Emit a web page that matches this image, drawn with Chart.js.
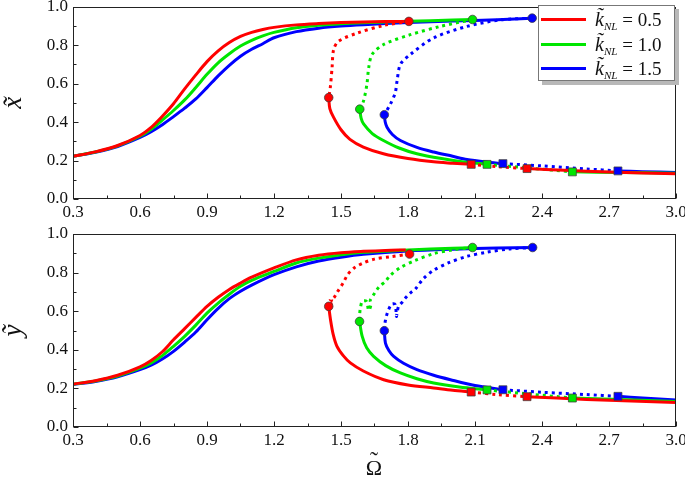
<!DOCTYPE html>
<html lang="en">
<head>
<meta charset="UTF-8">
<title>Amplitude response</title>
<script src="https://cdn.jsdelivr.net/npm/chart.js"></script>
<style>
    body { margin: 0; background: #fff; }
    #wrap { position: relative; width: 685px; height: 477px; overflow: hidden; }
    #topChart { position: absolute; left: 0; top: 0; }
    #bottomChart { position: absolute; left: 0; top: 222px; }
    .legend {
        position: absolute; left: 538px; top: 5px; width: 135px; height: 74px;
        border: 1px solid #777; background: #fff; box-shadow: 4px 4px 0 #b8b8b8;
        font-family: 'Liberation Serif', serif; color: #111;
    }
    .legend .swatch { position: absolute; left: 2px; width: 45px; height: 3px; }
    .legend .lbl { position: absolute; left: 56px; font-size: 19px; line-height: 19px; white-space: nowrap; }
    .legend .lbl i { font-size: 20px; }
    .legend .lbl sub { font-size: 11px; font-style: italic; vertical-align: -4px; margin-right: 5px; }
    .omega {
        position: absolute; left: 374px; top: 457px; transform: translateX(-50%);
        font-family: 'Liberation Serif', serif; font-size: 22px; line-height: 22px; color: #111;
    }
    .omega .tl { position: absolute; left: 50%; top: -8px; transform: translateX(-50%); font-size: 24px; }
</style>
</head>
<body>
<div id="wrap">
    <canvas id="topChart" width="685" height="222"></canvas>
    <canvas id="bottomChart" width="685" height="255"></canvas>
    <div class="legend" id="legend"></div>
    <div class="omega">&Omega;<span class="tl">&#732;</span></div>
</div>
<script>
// axis ticks
const xTicks = [0.3, 0.6, 0.9, 1.2, 1.5, 1.8, 2.1, 2.4, 2.7, 3.0];
const xTickLabels = ['0.3', '0.6', '0.9', '1.2', '1.5', '1.8', '2.1', '2.4', '2.7', '3.0'];
const xMinorTicks = [0.45, 0.75, 1.05, 1.35, 1.65, 1.95, 2.25, 2.55, 2.85];
const yTicks = [0.0, 0.2, 0.4, 0.6, 0.8, 1.0];
const yTickLabels = ['0.0', '0.2', '0.4', '0.6', '0.8', '1.0'];
const yMinorTicks = [0.1, 0.3, 0.5, 0.7, 0.9];

const kValues = ['0.5', '1.0', '1.5'];

// top panel: x~ vs Omega~  (stable upper, unstable upper, stable lower, unstable lower, stable tail)
const xtUpper05 = [[0.3,0.222],[0.4,0.245],[0.5,0.278],[0.6,0.33],[0.65,0.372],[0.7,0.43],[0.75,0.495],[0.8,0.572],[0.85,0.645],[0.9,0.714],[0.95,0.77],[1.0,0.813],[1.05,0.845],[1.1,0.866],[1.15,0.881],[1.2,0.892],[1.3,0.905],[1.4,0.912],[1.5,0.917],[1.6,0.92],[1.7,0.922],[1.804,0.923]];
const xtUpperUnst05 = [[1.804,0.923],[1.691,0.902],[1.572,0.862],[1.489,0.82],[1.467,0.777],[1.46,0.682],[1.452,0.579],[1.445,0.527]];
const xtLower05 = [[1.445,0.527],[1.45,0.47],[1.467,0.424],[1.5,0.36],[1.54,0.31],[1.6,0.27],[1.69,0.235],[1.8,0.21],[1.915,0.193],[2.0,0.186],[2.083,0.18]];
const xtLowerUnst05 = [[2.083,0.18],[2.2,0.168],[2.333,0.158]];
const xtTail05 = [[2.333,0.158],[2.5,0.149],[2.7,0.14],[3.0,0.131]];

const xtUpper10 = [[0.3,0.222],[0.4,0.244],[0.5,0.276],[0.6,0.326],[0.65,0.362],[0.7,0.41],[0.75,0.46],[0.8,0.515],[0.85,0.58],[0.9,0.648],[0.95,0.708],[1.0,0.755],[1.05,0.795],[1.1,0.825],[1.15,0.848],[1.2,0.866],[1.3,0.89],[1.4,0.903],[1.5,0.911],[1.6,0.916],[1.8,0.924],[2.0,0.93],[2.089,0.933]];
const xtUpperUnst10 = [[2.089,0.933],[1.945,0.897],[1.81,0.854],[1.691,0.803],[1.639,0.751],[1.624,0.682],[1.616,0.596],[1.601,0.51],[1.584,0.467]];
const xtLower10 = [[1.584,0.467],[1.59,0.42],[1.601,0.39],[1.64,0.34],[1.69,0.304],[1.76,0.265],[1.84,0.235],[1.95,0.21],[2.05,0.193],[2.154,0.18]];
const xtLowerUnst10 = [[2.154,0.18],[2.35,0.16],[2.536,0.141]];
const xtTail10 = [[2.536,0.141],[2.75,0.138],[3.0,0.134]];

const xtUpper15 = [[0.3,0.222],[0.4,0.243],[0.5,0.273],[0.6,0.32],[0.65,0.35],[0.7,0.386],[0.75,0.428],[0.8,0.472],[0.85,0.52],[0.9,0.579],[0.95,0.64],[1.0,0.695],[1.05,0.742],[1.1,0.778],[1.15,0.807],[1.2,0.838],[1.3,0.87],[1.4,0.888],[1.5,0.899],[1.6,0.906],[1.8,0.917],[2.0,0.925],[2.2,0.932],[2.356,0.94]];
const xtUpperUnst15 = [[2.356,0.94],[2.214,0.931],[2.064,0.897],[1.915,0.837],[1.81,0.751],[1.766,0.7],[1.751,0.613],[1.743,0.553],[1.721,0.493],[1.694,0.438]];
const xtLower15 = [[1.694,0.438],[1.698,0.4],[1.706,0.373],[1.73,0.335],[1.766,0.304],[1.84,0.268],[1.915,0.244],[2.0,0.222],[2.064,0.205],[2.15,0.192],[2.225,0.184]];
const xtLowerUnst15 = [[2.225,0.184],[2.4,0.172],[2.6,0.156],[2.74,0.146]];
const xtTail15 = [[2.74,0.146],[2.85,0.142],[3.0,0.138]];

// bottom panel: y~ vs Omega~
const ytUpper05 = [[0.3,0.222],[0.4,0.24],[0.5,0.268],[0.6,0.312],[0.65,0.345],[0.7,0.39],[0.75,0.452],[0.8,0.51],[0.85,0.568],[0.9,0.625],[0.95,0.672],[1.0,0.713],[1.05,0.746],[1.1,0.776],[1.2,0.824],[1.3,0.866],[1.4,0.89],[1.5,0.903],[1.6,0.91],[1.7,0.915],[1.79,0.917]];
const ytUpperUnst05 = [[1.807,0.896],[1.72,0.882],[1.65,0.87],[1.6,0.85],[1.56,0.825],[1.53,0.79],[1.511,0.749],[1.482,0.697],[1.467,0.668],[1.452,0.66],[1.47,0.646],[1.455,0.638],[1.445,0.625]];
const ytLower05 = [[1.445,0.625],[1.453,0.556],[1.465,0.48],[1.482,0.418],[1.51,0.37],[1.542,0.332],[1.6,0.29],[1.691,0.245],[1.8,0.218],[1.915,0.202],[2.0,0.19],[2.083,0.181]];
const ytLowerUnst05 = [[2.083,0.181],[2.2,0.168],[2.333,0.157]];
const ytTail05 = [[2.333,0.157],[2.6,0.143],[3.0,0.127]];

const ytUpper10 = [[0.3,0.222],[0.4,0.238],[0.5,0.264],[0.6,0.305],[0.65,0.332],[0.7,0.37],[0.75,0.418],[0.8,0.47],[0.85,0.528],[0.9,0.59],[0.95,0.642],[1.0,0.688],[1.05,0.729],[1.1,0.76],[1.2,0.806],[1.3,0.85],[1.4,0.875],[1.5,0.893],[1.6,0.905],[1.8,0.917],[2.0,0.926],[2.089,0.93]];
const ytUpperUnst10 = [[2.089,0.93],[2.0,0.918],[1.915,0.898],[1.83,0.862],[1.766,0.826],[1.72,0.785],[1.699,0.754],[1.676,0.732],[1.661,0.712],[1.646,0.685],[1.631,0.656],[1.634,0.634],[1.624,0.604],[1.614,0.651],[1.595,0.651],[1.587,0.616],[1.584,0.59],[1.583,0.547]];
const ytLower10 = [[1.583,0.547],[1.595,0.469],[1.615,0.41],[1.646,0.366],[1.7,0.318],[1.766,0.28],[1.84,0.25],[1.915,0.228],[2.03,0.207],[2.154,0.192]];
const ytLowerUnst10 = [[2.154,0.192],[2.35,0.17],[2.536,0.15]];
const ytTail10 = [[2.536,0.15],[2.75,0.142],[3.0,0.132]];

const ytUpper15 = [[0.3,0.22],[0.4,0.236],[0.5,0.26],[0.6,0.297],[0.65,0.32],[0.7,0.352],[0.75,0.392],[0.8,0.44],[0.85,0.492],[0.9,0.556],[0.95,0.615],[1.0,0.665],[1.05,0.703],[1.1,0.735],[1.2,0.789],[1.3,0.83],[1.4,0.86],[1.5,0.88],[1.6,0.895],[1.8,0.912],[2.0,0.921],[2.2,0.927],[2.358,0.93]];
const ytUpperUnst15 = [[2.358,0.93],[2.25,0.922],[2.15,0.905],[2.064,0.884],[1.98,0.85],[1.915,0.812],[1.87,0.77],[1.833,0.715],[1.81,0.694],[1.788,0.668],[1.773,0.645],[1.758,0.625],[1.752,0.598],[1.748,0.573],[1.743,0.634],[1.728,0.637],[1.713,0.608],[1.703,0.573],[1.697,0.539],[1.694,0.499]];
const ytLower15 = [[1.694,0.499],[1.699,0.435],[1.715,0.395],[1.736,0.366],[1.78,0.33],[1.84,0.297],[1.915,0.268],[1.99,0.245],[2.1,0.215],[2.225,0.193]];
const ytLowerUnst15 = [[2.225,0.193],[2.4,0.18],[2.6,0.168],[2.74,0.159]];
const ytTail15 = [[2.74,0.159],[2.85,0.15],[3.0,0.14]];

const colors = ['#ff0000', '#00e600', '#0000ff'];
const serif = 'Liberation Serif';

const topSeries = [
    [xtUpper05, xtUpperUnst05, xtLower05, xtLowerUnst05, xtTail05],
    [xtUpper10, xtUpperUnst10, xtLower10, xtLowerUnst10, xtTail10],
    [xtUpper15, xtUpperUnst15, xtLower15, xtLowerUnst15, xtTail15]
];
const bottomSeries = [
    [ytUpper05, ytUpperUnst05, ytLower05, ytLowerUnst05, ytTail05],
    [ytUpper10, ytUpperUnst10, ytLower10, ytLowerUnst10, ytTail10],
    [ytUpper15, ytUpperUnst15, ytLower15, ytLowerUnst15, ytTail15]
];

function pts(arr) {
    return arr.map(p => ({ x: p[0], y: p[1] }));
}

function buildDatasets(series) {
    let sets = [];
    series.forEach((segs, i) => {
        segs.forEach((seg, j) => {
            let dotted = (j === 1 || j === 3);
            sets.push({
                data: pts(seg),
                showLine: true,
                borderColor: colors[i],
                borderWidth: 3,
                borderDash: dotted ? [3, 4] : [],
                borderCapStyle: 'butt',
                pointRadius: 0,
                tension: 0.3,
                order: 1
            });
        });
    });
    // turning points: ends of the unstable segments
    series.forEach((segs, i) => {
        let u = segs[1], l = segs[3];
        sets.push({
            data: pts([u[0], u[u.length - 1], l[0], l[l.length - 1]]),
            showLine: false,
            pointStyle: ['circle', 'circle', 'rect', 'rect'],
            pointRadius: [4.3, 4.3, 5.6, 5.6],
            backgroundColor: colors[i],
            borderColor: 'rgba(60,60,60,0.75)',
            borderWidth: 1,
            order: 0
        });
    });
    return sets;
}

// box around plot + inward tick marks
const framePlugin = {
    id: 'frame',
    afterDraw(chart) {
        const { ctx, chartArea: a, scales } = chart;
        ctx.save();
        ctx.strokeStyle = '#222';
        ctx.lineWidth = 1;
        ctx.strokeRect(Math.round(a.left) + 0.5, Math.round(a.top) + 0.5,
            Math.round(a.right - a.left) - 1, Math.round(a.bottom - a.top) - 1);
        ctx.beginPath();
        const yb = Math.round(a.bottom) - 0.5;
        xTicks.concat(xMinorTicks).forEach((v, i) => {
            let len = i < xTicks.length ? 5 : 3;
            let px = Math.round(scales.x.getPixelForValue(v)) + 0.5;
            ctx.moveTo(px, yb);
            ctx.lineTo(px, yb - len);
        });
        const xl = Math.round(a.left) + 0.5;
        yTicks.concat(yMinorTicks).forEach((v, i) => {
            let len = i < yTicks.length ? 5 : 3;
            let py = Math.round(scales.y.getPixelForValue(v)) + 0.5;
            ctx.moveTo(xl, py);
            ctx.lineTo(xl + len, py);
        });
        ctx.stroke();
        ctx.restore();
    }
};

function makeChart(id, series, yTitle, padTop, xAxisHeight) {
    return new Chart(document.getElementById(id), {
        type: 'scatter',
        data: { datasets: buildDatasets(series) },
        options: {
            responsive: false,
            animation: false,
            events: [],
            layout: { padding: { top: padTop, right: 9, left: 0, bottom: 0 } },
            plugins: { legend: { display: false }, tooltip: { enabled: false } },
            scales: {
                x: {
                    type: 'linear', min: 0.3, max: 3.0,
                    afterBuildTicks: s => { s.ticks = xTicks.map(v => ({ value: v })); },
                    afterFit: s => { s.height = xAxisHeight; s.paddingLeft = 0; s.paddingRight = 0; },
                    ticks: {
                        callback: (v, i) => xTickLabels[i],
                        color: '#111', font: { family: serif, size: 17 },
                        padding: 3, maxRotation: 0, autoSkip: false
                    },
                    grid: { display: false, drawTicks: false },
                    border: { display: false }
                },
                y: {
                    type: 'linear', min: 0, max: 1,
                    afterBuildTicks: s => { s.ticks = yTicks.map(v => ({ value: v })); },
                    afterFit: s => { s.width = 73; s.paddingTop = 0; s.paddingBottom = 0; },
                    ticks: {
                        callback: (v, i) => yTickLabels[i],
                        color: '#111', font: { family: serif, size: 17 }, padding: 5
                    },
                    grid: { display: false, drawTicks: false },
                    border: { display: false },
                    title: {
                        display: true, text: yTitle, color: '#111',
                        font: { family: serif, size: 27, style: 'italic', lineHeight: 1.05 }, padding: 0
                    }
                }
            }
        },
        plugins: [framePlugin]
    });
}

makeChart('topChart', topSeries, 'x\u0303', 5, 23);
makeChart('bottomChart', bottomSeries, 'y\u0303', 12, 50);

// legend
const legend = document.getElementById('legend');
const rowTops = [4, 28.5, 53];
kValues.forEach((k, i) => {
    let sw = document.createElement('div');
    sw.className = 'swatch';
    sw.style.background = colors[i];
    sw.style.top = (rowTops[i] + 8) + 'px';
    legend.appendChild(sw);
    let lb = document.createElement('div');
    lb.className = 'lbl';
    lb.style.top = rowTops[i] + 'px';
    lb.innerHTML = '<i>k\u0303</i><sub>NL</sub>= ' + k;
    legend.appendChild(lb);
});
</script>
</body>
</html>
